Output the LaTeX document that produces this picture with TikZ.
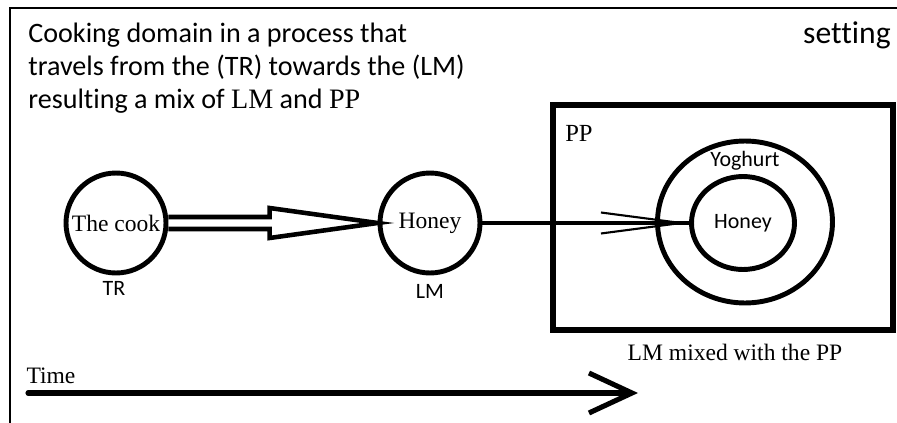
\documentclass[tikz,border=0pt]{standalone}
\usepackage{fontspec}
\setmainfont{Liberation Serif}
\setsansfont{Carlito}[Ligatures=NoCommon]
\usetikzlibrary{arrows.meta,shapes.geometric,calc}

\tikzset{
  ring/.style={draw, circle, line width=2.8pt, inner sep=0pt, minimum size=2cm},
  oval/.style={draw, ellipse, line width=2.8pt, inner sep=0pt},
  serif/.style={font=\fontsize{13.4}{16}\selectfont},
  sans/.style={font=\sffamily\fontsize{12.5}{15}\selectfont},
  headline/.style={anchor=base west, inner sep=0pt, font=\sffamily\fontsize{16}{19}\selectfont},
  heavy/.style={line width=2.6pt},
}

\begin{document}
\begin{tikzpicture}[x=0.02cm, y=-0.02cm]
  \useasboundingbox (0,0) rectangle (897,423);

  % Frame
  \coordinate (fa) at (10,423);
  \coordinate (fb) at (10,8);
  \coordinate (fc) at (897,8);
  \draw[line width=1.7pt] (fa) -- (fb) -- (fc);

  % Heading
  \node[headline] (head1) at (28,42) {Cooking domain in a process that};
  \node[headline] (head2) at (28,75) {travels from the (TR) towards the (LM)};
  \node[headline] (head3) at (28,108) {resulting a mix of {\rmfamily LM} and {\rmfamily PP}};
  \node[anchor=base east, inner sep=0pt, font=\sffamily\fontsize{18}{21}\selectfont] (setting) at (891,43) {setting};

  % Vertices
  \node[ring, serif] (cook) at (116,223) {The cook};
  \node[ring, serif] (honey) at (430,223) {Honey};
  \node[draw, line width=2.9pt, minimum width=6.8cm, minimum height=4.5cm] (pp) at (723,217.5) {};
  \node[oval, minimum width=3.5cm, minimum height=3.24cm] (yog) at (745,222) {};
  \node[oval, sans, minimum width=2.06cm, minimum height=1.86cm] (mix) at (743,223) {Honey};

  % Labels
  \node[sans] (tr) at (114,288) {TR};
  \node[sans] (lm) at (430,291) {LM};
  \node[font=\fontsize{14}{16}\selectfont] (pplbl) at (579,133) {PP};
  \node[sans] (yoglbl) at (745,161) {Yoghurt};
  \node[serif] (mixlbl) at (735,352) {LM mixed with the PP};
  \node[serif] (time) at (51,376) {Time};

  % Edges
  \draw[heavy] ($(cook.east)+(0,-6)$) -- ($(honey.west)+(-108,-6)$)
    -- ($(honey.west)+(-108,-15)$) -- (honey.west)
    -- ($(honey.west)+(-108,15)$) -- ($(honey.west)+(-108,6)$)
    -- ($(cook.east)+(0,6)$);
  \draw[heavy] (honey) -- (mix);
  \draw[line width=1.2pt, -{Straight Barb[length=1.6cm, width=0.42cm]}] (honey) -- (mix);

  % Time axis
  \coordinate (t0) at (28,393);
  \coordinate (t1) at (638,393);
  \draw[line width=2.9pt, line cap=round, -{Straight Barb[length=0.86cm, width=0.8cm]}] (t0) -- (t1);
\end{tikzpicture}
\end{document}
